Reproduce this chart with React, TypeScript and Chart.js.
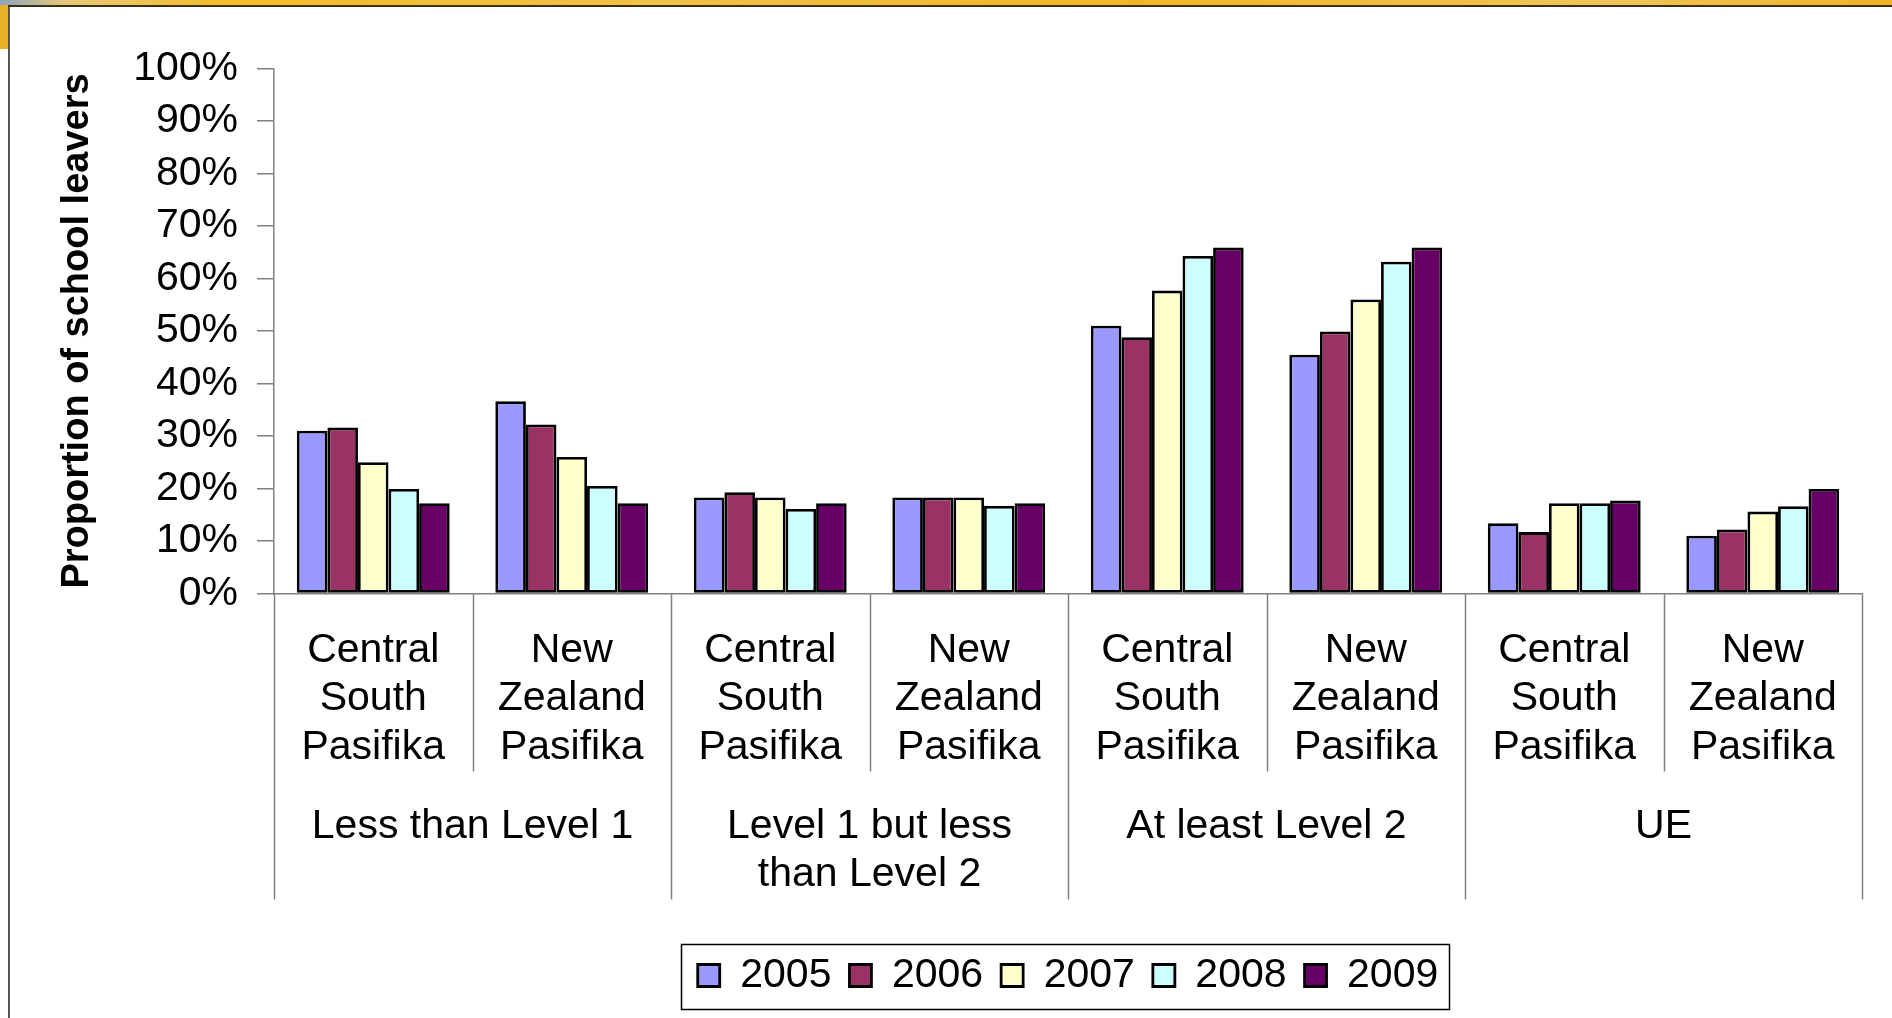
import React, { useEffect, useRef } from "react";
import { Chart, registerables } from "chart.js";

Chart.register(...registerables);

const regionLabels: string[][] = [
  ["Central", "South", "Pasifika"],
  ["New", "Zealand", "Pasifika"],
];
const groupLabels: (string | string[])[] = [
  "Less than Level 1",
  ["Level 1 but less", "than Level 2"],
  "At least Level 2",
  "UE",
];
const categories: string[][] = groupLabels.flatMap(() => regionLabels);

const years = ["2005", "2006", "2007", "2008", "2009"];
const values2005 = [31.0, 36.6, 18.3, 18.3, 51.0, 45.5, 13.4, 11.0];
const values2006 = [31.6, 32.2, 19.3, 18.3, 48.8, 49.9, 11.7, 12.2];
const values2007 = [25.0, 26.0, 18.3, 18.3, 57.7, 56.0, 17.2, 15.6];
const values2008 = [19.9, 20.5, 16.1, 16.7, 64.3, 63.2, 17.2, 16.6];
const values2009 = [17.2, 17.2, 17.2, 17.2, 65.9, 65.9, 17.7, 19.9];
const seriesValues = [values2005, values2006, values2007, values2008, values2009];
const seriesColors = ["#9999FF", "#993366", "#FFFFCC", "#CCFFFF", "#660066"];

const yTicks = [0, 10, 20, 30, 40, 50, 60, 70, 80, 90, 100];

const FONT = "'Liberation Sans', Arial, Helvetica, sans-serif";

const framePlugin = {
  id: "frame",
  beforeDraw(chart: any) {
    const ctx = chart.ctx;
    const W = chart.width;
    const H = chart.height;
    ctx.save();
    ctx.fillStyle = "#FFFFFF";
    ctx.fillRect(0, 0, W, H);
    const g = ctx.createLinearGradient(0, 0, W, 0);
    g.addColorStop(0, "#8FA6BE");
    g.addColorStop(0.035, "#E6C878");
    g.addColorStop(0.12, "#F3BC2A");
    g.addColorStop(0.35, "#EFC24A");
    g.addColorStop(0.6, "#F1B524");
    g.addColorStop(0.85, "#EEC55A");
    g.addColorStop(1, "#EFB226");
    ctx.fillStyle = g;
    ctx.fillRect(0, 0, W, 5);
    ctx.fillStyle = "#3C3018";
    ctx.fillRect(0, 5, W, 2);
    ctx.fillStyle = "#E9B226";
    ctx.fillRect(0, 5, 8, 44);
    ctx.fillStyle = "#555555";
    ctx.fillRect(8, 7, 2, H - 7);
    ctx.restore();
  },
  afterDraw(chart: any) {
    const ctx = chart.ctx;
    const xs = chart.scales.x;
    ctx.save();
    ctx.strokeStyle = "#808080";
    ctx.lineWidth = 1.5;
    const n = categories.length;
    for (let i = 0; i <= n; i++) {
      const px = Math.round(xs.getPixelForValue(i - 0.5)) + 0.5;
      const longLine = i % 2 === 0;
      const yEnd = longLine ? xs.bottom + 130 : xs.bottom + 2;
      ctx.beginPath();
      ctx.moveTo(px, xs.top);
      ctx.lineTo(px, yEnd);
      ctx.stroke();
    }
    // legend frame
    const lg = chart.legend;
    if (lg && lg.legendHitBoxes && lg.legendHitBoxes.length) {
      const hb = lg.legendHitBoxes;
      const first = hb[0];
      const last = hb[hb.length - 1];
      const left = first.left - 17;
      const right = last.left + last.width + 10;
      const cy = first.top + first.height / 2;
      ctx.strokeStyle = "#000000";
      ctx.lineWidth = 1.5;
      ctx.strokeRect(Math.round(left) + 0.5, Math.round(cy - 32) + 0.5, Math.round(right - left), 65);
    }
    ctx.restore();
  },
};

export default function App() {
  const canvasRef = useRef<HTMLCanvasElement | null>(null);

  useEffect(() => {
    const canvas = canvasRef.current;
    if (!canvas) return;
    const chart = new Chart(canvas, {
      type: "bar",
      data: {
        labels: categories,
        datasets: years.map((y, i) => ({
          label: y,
          data: seriesValues[i],
          backgroundColor: seriesColors[i],
          borderColor: "#000000",
          borderWidth: 2.8,
          borderSkipped: false,
          xAxisID: "x",
          yAxisID: "y",
          categoryPercentage: 0.77,
          barPercentage: 1.0,
        })),
      },
      options: {
        responsive: false,
        maintainAspectRatio: false,
        devicePixelRatio: 1,
        animation: false,
        layout: { padding: { left: 0, right: 30, top: 68.5, bottom: 12 } },
        plugins: {
          tooltip: { enabled: false },
          legend: {
            display: true,
            position: "bottom",
            fullSize: false,
            align: "center",
            labels: {
              color: "#000000",
              font: { family: FONT, size: 41 },
              boxWidth: 22,
              boxHeight: 22,
              padding: 18,
            },
          },
        },
        scales: {
          y: {
            type: "linear",
            min: 0,
            max: 100,
            afterFit: (s: any) => {
              s.width = 274;
            },
            afterBuildTicks: (s: any) => {
              s.ticks = yTicks.map((v) => ({ value: v }));
            },
            ticks: {
              color: "#000000",
              font: { family: FONT, size: 41 },
              padding: 19,
              callback: (v: any) => v + "%",
            },
            grid: {
              display: true,
              drawOnChartArea: false,
              drawTicks: true,
              tickLength: 17,
              color: "#808080",
              lineWidth: 1.5,
            },
            border: { display: true, color: "#808080", width: 1.5 },
            title: {
              display: true,
              text: "Proportion of school leavers",
              color: "#000000",
              font: { family: FONT, size: 38, weight: "bold" },
              padding: { top: 55, bottom: 0 },
            },
          },
          x: {
            type: "category",
            position: "bottom",
            offset: true,
            afterFit: (s: any) => {
              s.height = 176;
            },
            ticks: {
              color: "#000000",
              font: { family: FONT, size: 41, lineHeight: 1.18 },
              padding: 25,
              maxRotation: 0,
              minRotation: 0,
              autoSkip: false,
            },
            grid: { display: false },
            border: { display: true, color: "#808080", width: 1.5 },
          },
          x2: {
            type: "category",
            position: "bottom",
            offset: true,
            labels: groupLabels as any,
            afterFit: (s: any) => {
              s.height = 167.5;
            },
            ticks: {
              color: "#000000",
              font: { family: FONT, size: 41, lineHeight: 1.18 },
              padding: 25,
              maxRotation: 0,
              minRotation: 0,
              autoSkip: false,
            },
            grid: { display: false },
            border: { display: false },
          },
        },
      } as any,
      plugins: [framePlugin],
    });
    return () => chart.destroy();
  }, []);

  return (
    <div
      style={{
        position: "fixed",
        left: 0,
        top: 0,
        width: 1892,
        height: 1018,
        background: "#FFFFFF",
      }}
    >
      <canvas ref={canvasRef} width={1892} height={1018} style={{ display: "block", width: 1892, height: 1018 }} />
    </div>
  );
}
